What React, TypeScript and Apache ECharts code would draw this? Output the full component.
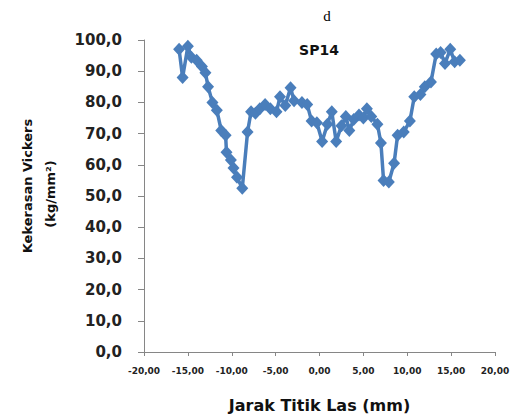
import React, { useEffect, useRef } from "react";
import * as echarts from "echarts";

const distances: number[] = [
  -16.0, -15.6, -15.0, -14.6, -14.0, -13.4, -13.0, -12.7, -12.2, -11.7,
  -11.2, -10.7, -10.6, -10.1, -9.8, -9.4, -8.8,
  -8.2, -7.8, -7.3, -6.8, -6.2, -5.6, -4.9, -4.5, -3.9, -3.3, -2.9,
  -2.0, -1.4, -0.9, -0.3, 0.3, 0.9, 1.4, 1.9, 2.5, 3.0, 3.4, 3.9, 4.5,
  5.0, 5.4, 5.9, 6.6, 7.0, 7.3, 7.9, 8.5, 8.9, 9.6, 10.3, 10.8, 11.5,
  12.0, 12.7, 13.3, 13.8, 14.3, 14.9, 15.4, 16.0,
];
const hardness: number[] = [
  97.0, 88.0, 98.0, 94.5, 93.5, 91.5, 89.5, 85.0, 80.0, 77.5,
  71.0, 69.5, 64.0, 61.5, 59.0, 56.0, 52.5,
  70.5, 77.0, 76.5, 78.0, 79.3, 78.0, 77.0, 81.8, 79.0, 84.7, 80.5,
  80.0, 79.3, 74.0, 73.5, 67.5, 73.0, 77.0, 67.5, 72.5, 75.5, 71.0, 74.5, 76.0,
  75.0, 78.0, 75.5, 73.0, 67.0, 55.0, 54.5, 60.5, 69.5, 70.5, 74.0, 81.8, 82.5,
  85.0, 86.5, 95.5, 96.0, 92.5, 97.0, 93.0, 93.5,
];

const xTicks = { min: -20, max: 20, interval: 5 };
const yTicks = { min: 0, max: 100, interval: 10 };

const chartTitle = "d";
const seriesLabel = "SP14";
const xName = "Jarak Titik Las (mm)";
const yNameLine1 = "Kekerasan Vickers";
const yNameLine2 = "(kg/mm²)";

export default function App() {
  const ref = useRef<HTMLDivElement>(null);
  useEffect(() => {
    if (!ref.current) return;
    const chart = echarts.init(ref.current, undefined, { renderer: "svg" });
    const data = distances.map((x, i) => [x, hardness[i]]);
    const font = "DejaVu Sans";
    const nameStyle = { fontFamily: font, fontSize: 13, fontWeight: "bold", fill: "#111", align: "center", verticalAlign: "middle" };
    chart.setOption({
      animation: false,
      backgroundColor: "#ffffff",
      grid: { left: 144, right: 20, top: 40, bottom: 64 },
      title: [
        {
          text: chartTitle,
          left: 322,
          top: 3,
          textAlign: "center",
          textStyle: { fontFamily: "Liberation Serif", fontSize: 15, fontWeight: "normal", color: "#000" },
        },
        {
          text: seriesLabel,
          left: 314,
          top: 38,
          textAlign: "center",
          textStyle: { fontFamily: font, fontSize: 14, fontWeight: "bold", color: "#111" },
        },
      ],
      graphic: [
        { type: "text", x: 27, y: 186, rotation: Math.PI / 2, style: { text: yNameLine1, ...nameStyle } },
        { type: "text", x: 50, y: 194, rotation: Math.PI / 2, style: { text: yNameLine2, ...nameStyle } },
      ],
      xAxis: {
        type: "value",
        min: xTicks.min,
        max: xTicks.max,
        interval: xTicks.interval,
        name: xName,
        nameLocation: "middle",
        nameGap: 45,
        nameTextStyle: { fontFamily: font, fontSize: 16, fontWeight: "bold", color: "#111" },
        axisLine: { show: true, onZero: false, lineStyle: { color: "#868686", width: 1 } },
        axisTick: { show: true, length: 4, lineStyle: { color: "#868686" } },
        splitLine: { show: false },
        axisLabel: {
          margin: 14,
          fontFamily: font,
          fontSize: 9,
          fontWeight: "bold",
          color: "#222",
          formatter: (v: number) => v.toFixed(2).replace(".", ","),
        },
      },
      yAxis: {
        type: "value",
        min: yTicks.min,
        max: yTicks.max,
        interval: yTicks.interval,
        axisLine: { show: true, onZero: false, lineStyle: { color: "#868686", width: 1 } },
        axisTick: { show: true, length: 6, lineStyle: { color: "#868686" } },
        splitLine: { show: false },
        axisLabel: {
          margin: 22,
          fontFamily: font,
          fontSize: 15,
          fontWeight: "bold",
          color: "#222",
          formatter: (v: number) => v.toFixed(1).replace(".", ","),
        },
      },
      series: [
        {
          type: "line",
          data,
          symbol: "diamond",
          symbolSize: [12, 13],
          lineStyle: { color: "#4a7ebb", width: 3.5 },
          itemStyle: { color: "#4a7ebb" },
        },
      ],
    });
    return () => chart.dispose();
  }, []);
  return (
    <div
      ref={ref}
      style={{ position: "fixed", left: 0, top: 0, width: 515, height: 418 }}
    />
  );
}
